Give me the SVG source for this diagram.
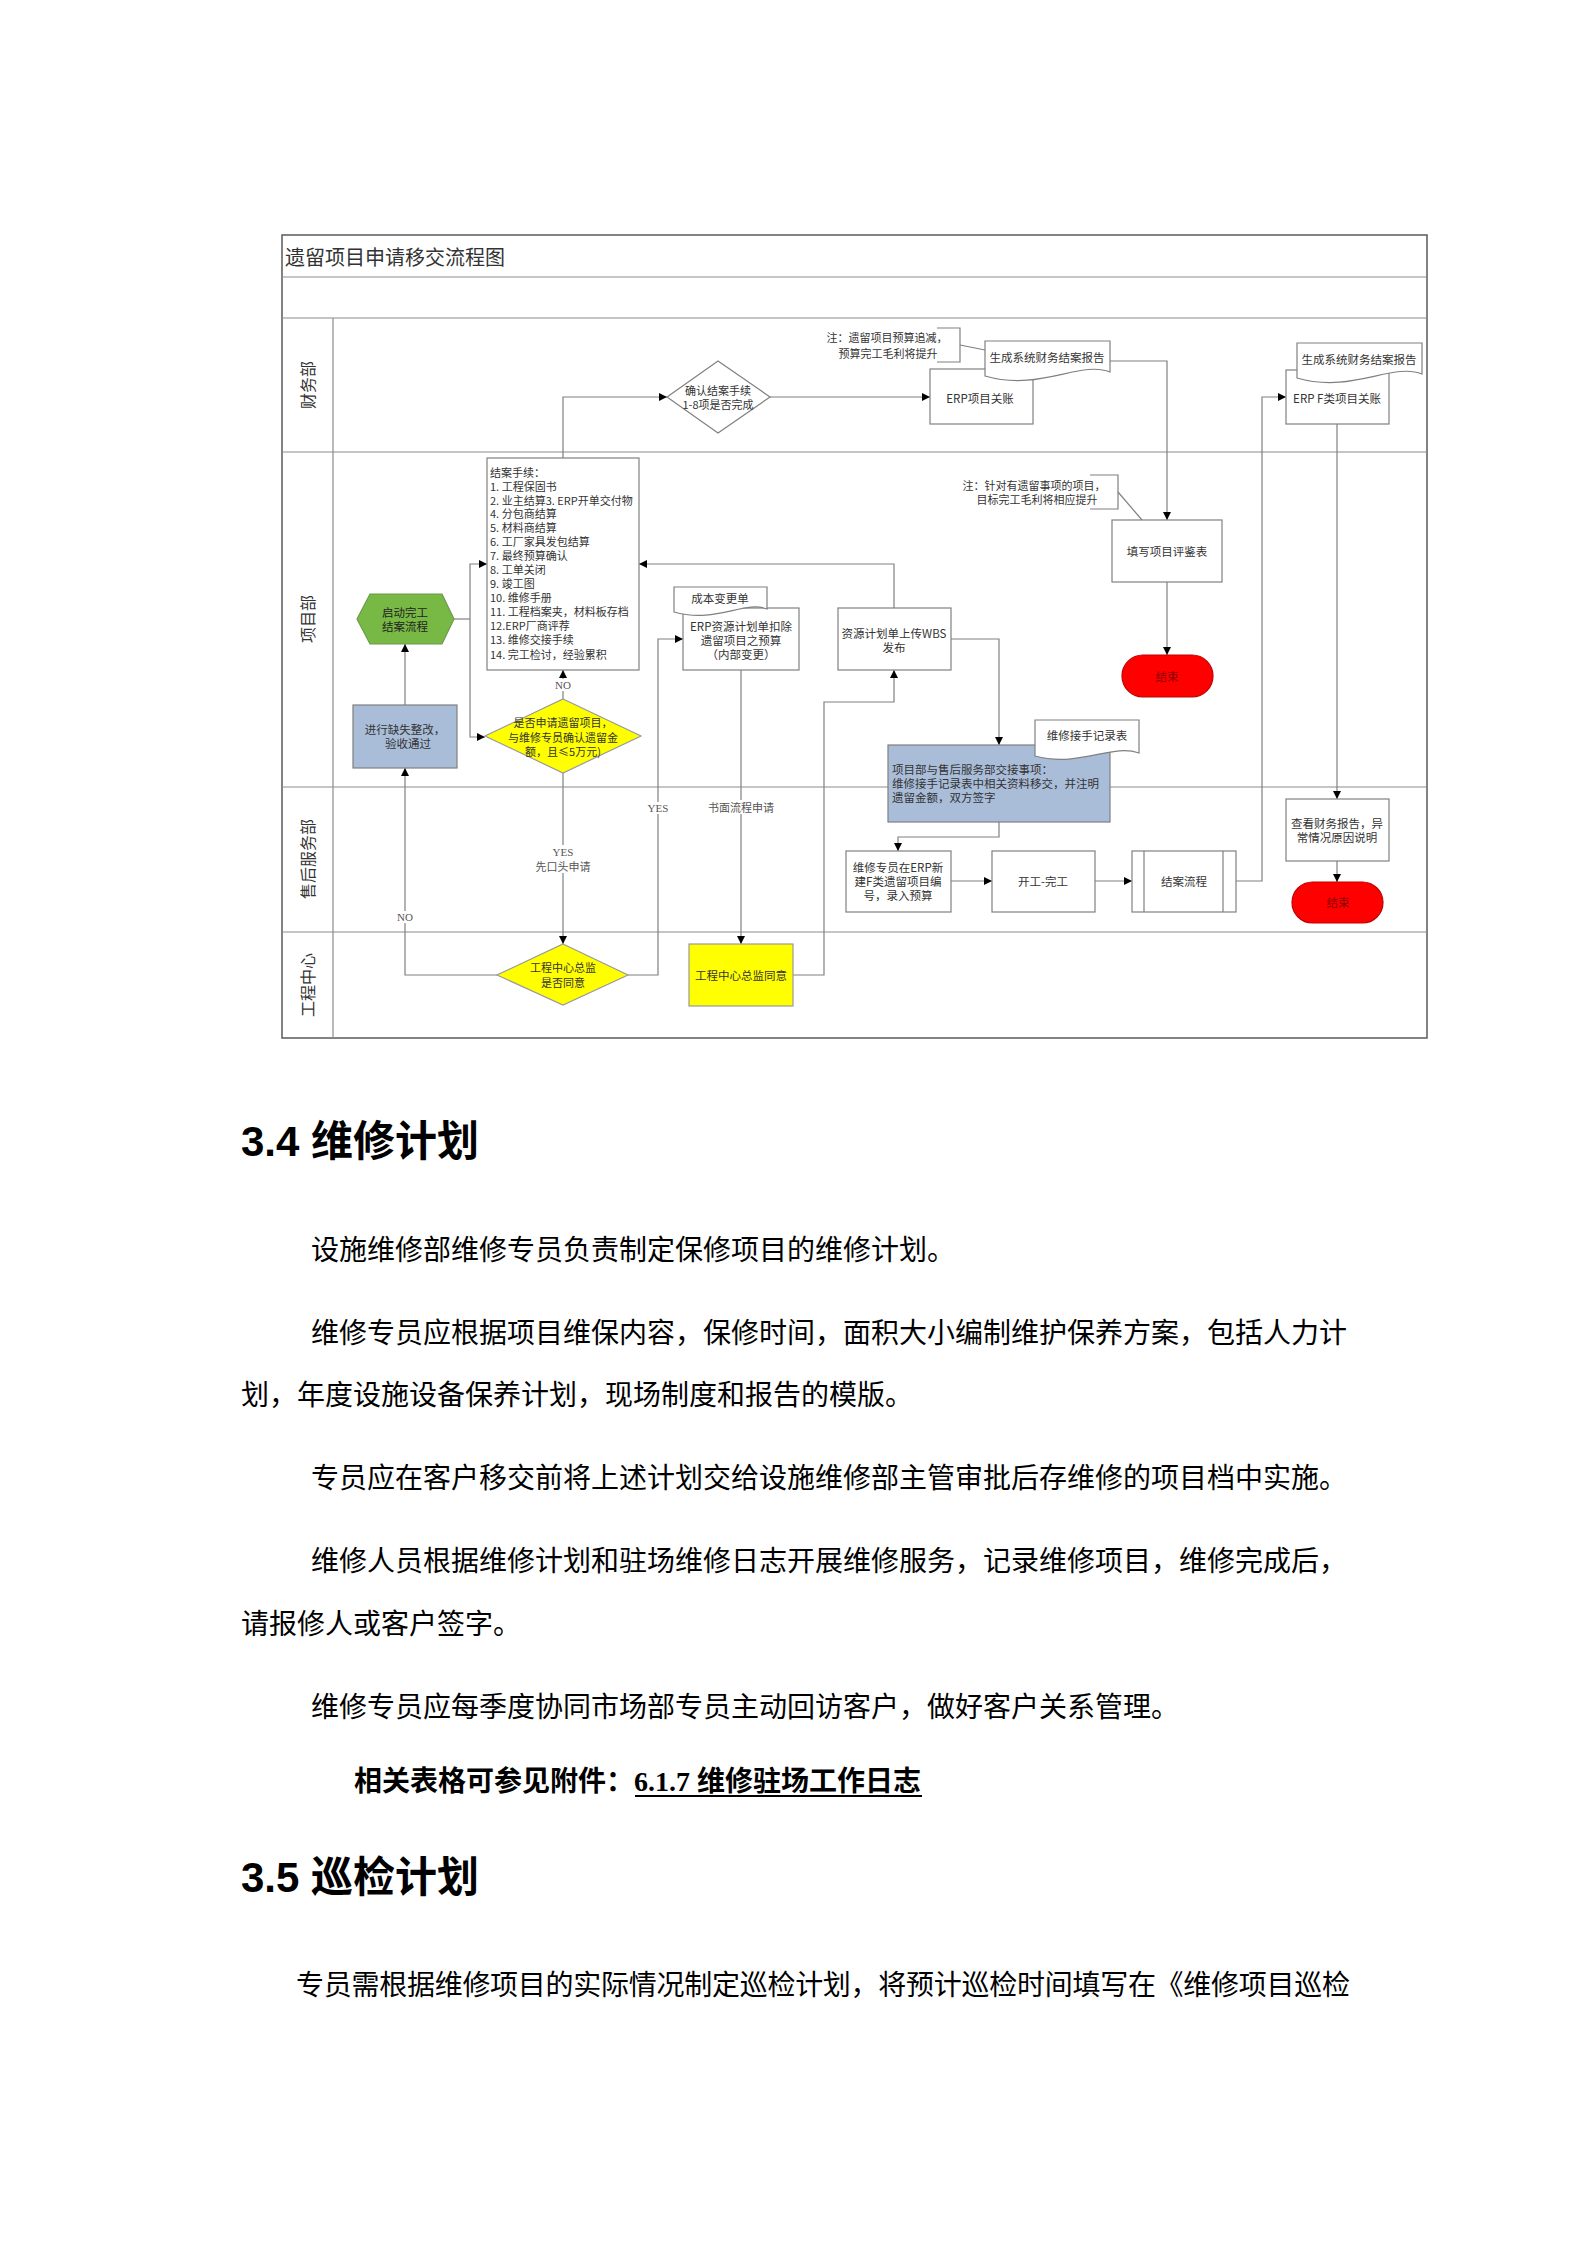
<svg xmlns="http://www.w3.org/2000/svg" width="1587" height="2245" viewBox="0 0 1587 2245">
<defs>
<marker id="arr" viewBox="0 0 10 10" refX="10" refY="5" markerWidth="9" markerHeight="8" markerUnits="userSpaceOnUse" orient="auto">
<path d="M0,0 L10,5 L0,10 z" fill="#000"/>
</marker>
<style>
.frame{fill:none;stroke:#5a5a5a;stroke-width:1.5}
.lane{fill:none;stroke:#8c8c8c;stroke-width:1.2}
.ln{fill:none;stroke:#808080;stroke-width:1.2}
.lna{fill:none;stroke:#808080;stroke-width:1.2;marker-end:url(#arr)}
.box{fill:#fff;stroke:#808080;stroke-width:1.2}
.doc{fill:#fff;stroke:#808080;stroke-width:1.2}
.blue{fill:#a9bdd9;stroke:#7f7f7f;stroke-width:1.2}
.yel{fill:#ffff00;stroke:#9a9a9a;stroke-width:1.2}
.grn{fill:#78b844;stroke:#6b9a4c;stroke-width:1.2}
.red{fill:#ff0000;stroke:#c00000;stroke-width:1.2}
.t{font-family:'Noto Sans CJK SC',sans-serif;font-size:11.5px;fill:#333;dominant-baseline:central}
.tc{text-anchor:middle}
.lbl{font-family:'Liberation Serif','Noto Sans CJK SC',serif;font-size:11px;fill:#555;text-anchor:middle;dominant-baseline:central}
.lbg{fill:#fff}
.lanet{font-family:'Noto Sans CJK SC',sans-serif;font-size:16px;fill:#333;text-anchor:middle;dominant-baseline:central}
.body{font-family:'Liberation Serif','Noto Sans CJK SC',serif;font-size:28px;fill:#000;dominant-baseline:central}
.h{font-family:'Liberation Sans','Noto Sans CJK SC',sans-serif;font-size:42px;font-weight:bold;fill:#000;dominant-baseline:central}
</style>
</defs>

<g id="frame">
<rect class="frame" x="282" y="235" width="1145" height="803"/>
<line class="lane" x1="282" y1="277" x2="1427" y2="277"/>
<line class="lane" x1="282" y1="318" x2="1427" y2="318"/>
<line class="lane" x1="282" y1="452" x2="1427" y2="452"/>
<line class="lane" x1="282" y1="787" x2="1427" y2="787"/>
<line class="lane" x1="282" y1="932" x2="1427" y2="932"/>
<line class="lane" x1="333" y1="318" x2="333" y2="1038"/>
<text x="285" y="256" style="font-family:'Noto Sans CJK SC',sans-serif;font-size:20px;fill:#333;dominant-baseline:central">遗留项目申请移交流程图</text>
<text class="lanet" transform="translate(307,385) rotate(-90)">财务部</text>
<text class="lanet" transform="translate(307,619) rotate(-90)">项目部</text>
<text class="lanet" transform="translate(307,859) rotate(-90)">售后服务部</text>
<text class="lanet" transform="translate(307,985) rotate(-90)">工程中心</text>
</g>

<g id="connectors">
<path class="lna" d="M563,458 V397 H667"/>
<path class="lna" d="M770,397 H930"/>
<path class="lna" d="M1110,361 H1167 V520"/>
<path class="lna" d="M1167,582 V655"/>
<path class="ln" d="M454,619 H470"/>
<path class="lna" d="M470,619 V564 H487"/>
<path class="lna" d="M470,619 V737 H485"/>
<path class="lna" d="M405,705 V644"/>
<path class="lna" d="M563,699 V670"/>
<path class="lna" d="M563,773 V944"/>
<path class="lna" d="M497,975 H405 V768"/>
<path class="lna" d="M628,975 H658 V639 H683"/>
<path class="lna" d="M741,670 V944"/>
<path class="lna" d="M793,975 H824 V702 H894 V670"/>
<path class="lna" d="M894,608 V564 H639"/>
<path class="lna" d="M951,639 H999 V745"/>
<path class="lna" d="M999,822 V837 H898 V851"/>
<path class="lna" d="M951,881 H992"/>
<path class="lna" d="M1095,881 H1132"/>
<path class="lna" d="M1236,881 H1262 V397 H1286"/>
<path class="lna" d="M1337,424 V799"/>
<path class="lna" d="M1337,861 V882"/>
<rect class="lbg" x="554" y="679" width="18" height="12"/>
<text class="lbl" x="563" y="685">NO</text>
<rect class="lbg" x="536" y="845" width="54" height="28"/>
<text class="lbl" x="563" y="852">YES</text>
<text class="lbl" x="563" y="866" style="font-family:'Noto Sans CJK SC',sans-serif">先口头申请</text>
<rect class="lbg" x="396" y="911" width="18" height="12"/>
<text class="lbl" x="405" y="917">NO</text>
<rect class="lbg" x="648" y="802" width="20" height="12"/>
<text class="lbl" x="658" y="808">YES</text>
<rect class="lbg" x="708" y="800" width="66" height="14"/>
<text class="lbl" x="741" y="807" style="font-family:'Noto Sans CJK SC',sans-serif">书面流程申请</text>
</g>

<g id="note1">
<path class="ln" d="M937,328 H960 V362 H937"/>
<path class="ln" d="M960,345 L985,350"/>
<text class="t tc" x="887" y="337" style="font-size:11px">注：遗留项目预算追减，</text>
<text class="t tc" x="888" y="353" style="font-size:11px">预算完工毛利将提升</text>
</g>

<g id="note2">
<path class="ln" d="M1090,475 H1118 V509 H1090"/>
<path class="ln" d="M1118,492 L1142,520"/>
<text class="t tc" x="1034" y="485" style="font-size:11px">注：针对有遗留事项的项目，</text>
<text class="t tc" x="1037" y="499" style="font-size:11px">目标完工毛利将相应提升</text>
</g>

<g id="confirm-diamond">
<polygon class="box" points="718,361 770,397 718,433 667,397"/>
<text class="t tc" x="718" y="390" style="font-size:11px">确认结案手续</text>
<text class="t tc" x="718" y="404" style="font-size:11px">1-8项是否完成</text>
</g>

<g id="erp-close">
<rect class="box" x="930" y="369" width="103" height="55"/>
<text class="t tc" x="980" y="398">ERP项目关账</text>
</g>

<g id="report1">
<path class="doc" d="M985,341 H1110 V372 C1080,360 1040,392 985,376 Z"/>
<text class="t tc" x="1047" y="357">生成系统财务结案报告</text>
</g>

<g id="erp-f-close">
<rect class="box" x="1286" y="370" width="103" height="54"/>
<text class="t tc" x="1337" y="398">ERP F类项目关账</text>
</g>

<g id="report2">
<path class="doc" d="M1297,343 H1422 V374 C1392,362 1352,394 1297,378 Z"/>
<text class="t tc" x="1359" y="359">生成系统财务结案报告</text>
</g>

<g id="closing-list">
<rect class="box" x="487" y="458" width="152" height="212"/>
<text class="t" style="font-size:11px">
<tspan x="490" y="472">结案手续：</tspan>
<tspan x="490" y="486">1. 工程保固书</tspan>
<tspan x="490" y="500">2. 业主结算3. ERP开单交付物</tspan>
<tspan x="490" y="513">4. 分包商结算</tspan>
<tspan x="490" y="527">5. 材料商结算</tspan>
<tspan x="490" y="541">6. 工厂家具发包结算</tspan>
<tspan x="490" y="555">7. 最终预算确认</tspan>
<tspan x="490" y="569">8. 工单关闭</tspan>
<tspan x="490" y="583">9. 竣工图</tspan>
<tspan x="490" y="597">10. 维修手册</tspan>
<tspan x="490" y="611">11. 工程档案夹，材料板存档</tspan>
<tspan x="490" y="625">12.ERP厂商评荐</tspan>
<tspan x="490" y="639">13. 维修交接手续</tspan>
<tspan x="490" y="654">14. 完工检讨，经验累积</tspan>
</text>
</g>

<g id="start-hex">
<polygon class="grn" points="357,619 370,594 442,594 454,619 442,644 370,644"/>
<text class="t tc" x="405" y="612" style="fill:#222">启动完工</text>
<text class="t tc" x="405" y="626" style="fill:#222">结案流程</text>
</g>

<g id="rectify">
<rect class="blue" x="353" y="705" width="104" height="63"/>
<text class="t tc" x="405" y="729">进行缺失整改，</text>
<text class="t tc" x="408" y="743">验收通过</text>
</g>

<g id="apply-diamond">
<polygon class="yel" points="563,699 641,736 563,773 485,736"/>
<text class="t tc" x="563" y="722" style="font-size:11px">是否申请遗留项目，</text>
<text class="t tc" x="563" y="737" style="font-size:11px">与维修专员确认遗留金</text>
<text class="t tc" x="563" y="751" style="font-size:11px">额，且≤5万元)</text>
</g>

<g id="director-diamond">
<polygon class="yel" points="563,944 628,975 563,1005 497,975"/>
<text class="t tc" x="563" y="967" style="font-size:11px">工程中心总监</text>
<text class="t tc" x="563" y="982" style="font-size:11px">是否同意</text>
</g>

<g id="director-agree">
<rect class="yel" x="689" y="944" width="104" height="62"/>
<text class="t tc" x="741" y="975">工程中心总监同意</text>
</g>

<g id="erp-plan">
<rect class="box" x="683" y="608" width="116" height="62"/>
<text class="t tc" x="741" y="626">ERP资源计划单扣除</text>
<text class="t tc" x="741" y="640">遗留项目之预算</text>
<text class="t tc" x="741" y="654">（内部变更）</text>
</g>

<g id="cost-change">
<path class="doc" d="M674,587 H767 V609 C745,600 715,624 674,612 Z"/>
<text class="t tc" x="720" y="598">成本变更单</text>
</g>

<g id="wbs">
<rect class="box" x="838" y="608" width="113" height="62"/>
<text class="t tc" x="894" y="633">资源计划单上传WBS</text>
<text class="t tc" x="894" y="647">发布</text>
</g>

<g id="evaluate">
<rect class="box" x="1112" y="520" width="110" height="62"/>
<text class="t tc" x="1167" y="551">填写项目评鉴表</text>
</g>

<g id="end1">
<rect class="red" x="1122" y="655" width="91" height="42" rx="21"/>
<text class="t tc" x="1167" y="676" style="fill:#8b0000">结束</text>
</g>

<g id="handover">
<rect class="blue" x="888" y="745" width="222" height="77"/>
<text class="t" x="892" y="769">项目部与售后服务部交接事项：</text>
<text class="t" x="892" y="783">维修接手记录表中相关资料移交，并注明</text>
<text class="t" x="892" y="797">遗留金额，双方签字</text>
</g>

<g id="handover-record">
<path class="doc" d="M1035,720 H1139 V753 C1112,743 1080,768 1035,756 Z"/>
<text class="t tc" x="1087" y="735">维修接手记录表</text>
</g>

<g id="new-f-project">
<rect class="box" x="846" y="851" width="105" height="61"/>
<text class="t tc" x="898" y="867">维修专员在ERP新</text>
<text class="t tc" x="898" y="881">建F类遗留项目编</text>
<text class="t tc" x="898" y="895">号，录入预算</text>
</g>

<g id="work">
<rect class="box" x="992" y="851" width="103" height="61"/>
<text class="t tc" x="1043" y="881">开工-完工</text>
</g>

<g id="close-process">
<rect class="box" x="1132" y="851" width="104" height="61"/>
<line class="ln" x1="1144" y1="851" x2="1144" y2="912"/>
<line class="ln" x1="1223" y1="851" x2="1223" y2="912"/>
<text class="t tc" x="1184" y="881">结案流程</text>
</g>

<g id="check-report">
<rect class="box" x="1286" y="799" width="103" height="62"/>
<text class="t tc" x="1337" y="823">查看财务报告，异</text>
<text class="t tc" x="1337" y="837">常情况原因说明</text>
</g>

<g id="end2">
<rect class="red" x="1292" y="882" width="91" height="41" rx="20.5"/>
<text class="t tc" x="1338" y="902" style="fill:#8b0000">结束</text>
</g>

<g id="text-body">
<text class="h" x="241" y="1141">3.4 维修计划</text>
<text class="body" x="311" y="1250">设施维修部维修专员负责制定保修项目的维修计划。</text>
<text class="body" x="311" y="1333">维修专员应根据项目维保内容，保修时间，面积大小编制维护保养方案，包括人力计</text>
<text class="body" x="241" y="1395">划，年度设施设备保养计划，现场制度和报告的模版。</text>
<text class="body" x="311" y="1478">专员应在客户移交前将上述计划交给设施维修部主管审批后存维修的项目档中实施。</text>
<text class="body" x="311" y="1561">维修人员根据维修计划和驻场维修日志开展维修服务，记录维修项目，维修完成后，</text>
<text class="body" x="241" y="1624">请报修人或客户签字。</text>
<text class="body" x="311" y="1707">维修专员应每季度协同市场部专员主动回访客户，做好客户关系管理。</text>
<text class="body" x="354" y="1781" style="font-weight:bold">相关表格可参见附件：<tspan>6.1.7 维修驻场工作日志</tspan></text>
<line x1="635" y1="1796" x2="922" y2="1796" stroke="#000" stroke-width="2"/>
<text class="h" x="241" y="1877">3.5 巡检计划</text>
<text class="body" x="296" y="1985" textLength="1054" lengthAdjust="spacing">专员需根据维修项目的实际情况制定巡检计划，将预计巡检时间填写在《维修项目巡检</text>
</g>
</svg>
